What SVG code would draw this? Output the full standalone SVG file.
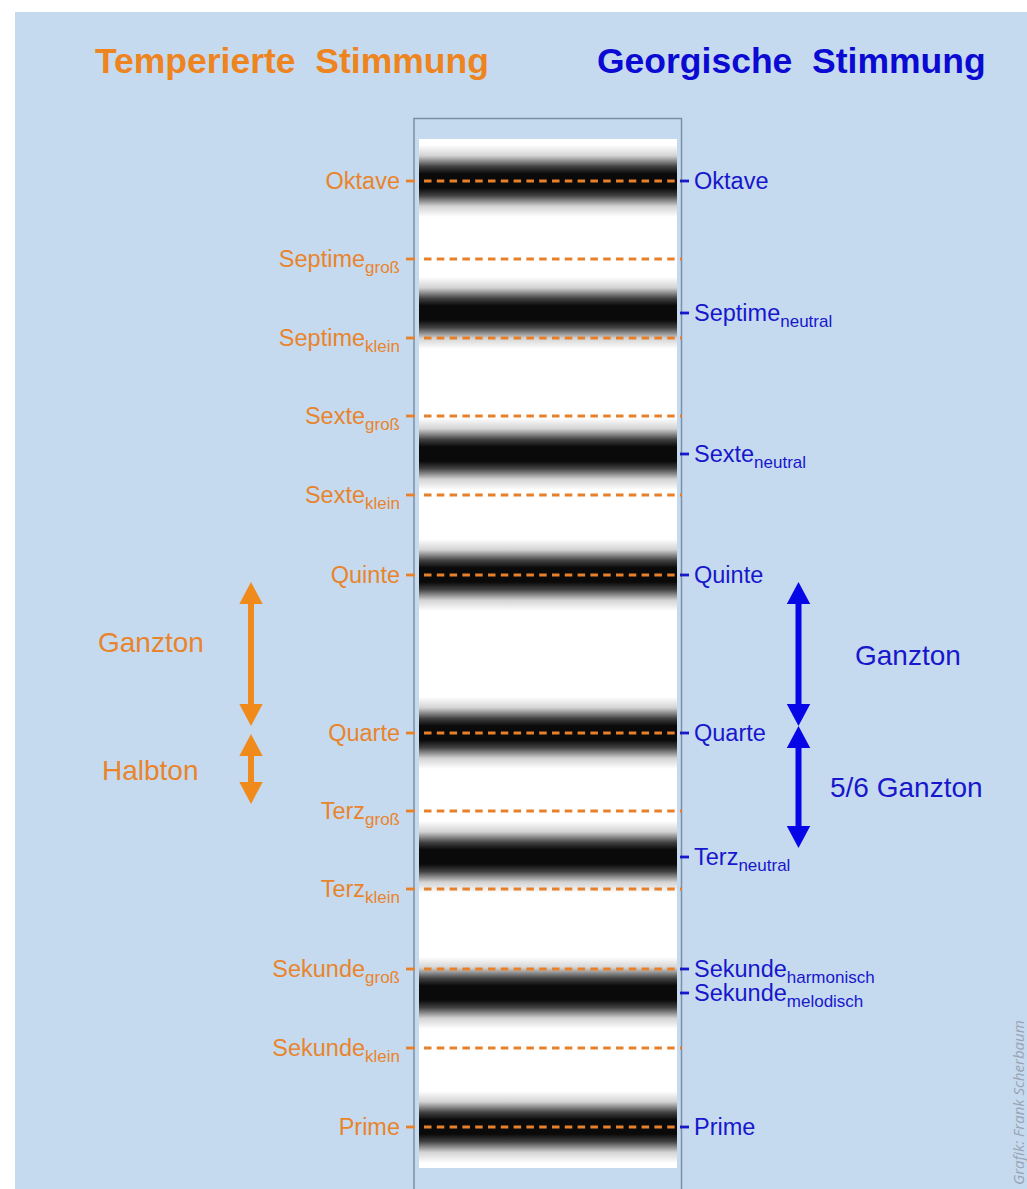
<svg xmlns="http://www.w3.org/2000/svg" width="1027" height="1189" viewBox="0 0 1027 1189">
<style>
  .title { font-family: "Liberation Sans", Arial, sans-serif; font-weight: bold; font-size: 35.5px; }
  .lbl { font-family: "Liberation Sans", Arial, sans-serif; font-size: 23.5px; }
  .sub { font-size: 17px; }
  .big { font-family: "Liberation Sans", Arial, sans-serif; font-size: 28px; }
  .org { fill: #e8842c; }
  .blu { fill: #1717cc; }
  .dash { stroke: #e8802a; stroke-width: 3; stroke-dasharray: 7.5 5.3; fill: none; }
  .tickL { stroke: #e8802a; stroke-width: 2.8; }
  .tickR { stroke: #1717cc; stroke-width: 2.8; }
  .band { fill: url(#bandGrad); }
  .arrO { stroke: #f08a1a; stroke-width: 6; marker-start: url(#headO); marker-end: url(#headO); }
  .arrB { stroke: #0606e6; stroke-width: 6; marker-start: url(#headB); marker-end: url(#headB); }
  .credit { font-family: "Open Sans", sans-serif; font-style: italic; font-size: 15px; fill: #98a3b3; }
</style>
<defs>
  <linearGradient id="bandGrad" x1="0" y1="0" x2="0" y2="1">
    <stop offset="0" stop-color="#0a0a0a" stop-opacity="0"/>
    <stop offset="0.15" stop-color="#0a0a0a" stop-opacity="0.18"/>
    <stop offset="0.3" stop-color="#0a0a0a" stop-opacity="0.78"/>
    <stop offset="0.4" stop-color="#0a0a0a" stop-opacity="1"/>
    <stop offset="0.6" stop-color="#0a0a0a" stop-opacity="1"/>
    <stop offset="0.7" stop-color="#0a0a0a" stop-opacity="0.78"/>
    <stop offset="0.85" stop-color="#0a0a0a" stop-opacity="0.18"/>
    <stop offset="1" stop-color="#0a0a0a" stop-opacity="0"/>
  </linearGradient>
  <marker id="headO" markerUnits="userSpaceOnUse" markerWidth="24" markerHeight="26" refX="0" refY="12" orient="auto-start-reverse" overflow="visible">
    <path d="M0,0.3 L22,12 L0,23.7 z" fill="#f08a1a"/>
  </marker>
  <marker id="headB" markerUnits="userSpaceOnUse" markerWidth="24" markerHeight="26" refX="0" refY="12" orient="auto-start-reverse" overflow="visible">
    <path d="M0,0.3 L22,12 L0,23.7 z" fill="#0606e6"/>
  </marker>
</defs>

<rect x="0" y="0" width="1027" height="1189" fill="#ffffff"/>
<rect x="15" y="12" width="1012" height="1177" fill="#c6daef"/>

<g id="titles">
  <text class="title" x="95" y="73" fill="#ee8420" xml:space="preserve">Temperierte  Stimmung</text>
  <text class="title" x="597" y="73" fill="#0a0ad2" xml:space="preserve">Georgische  Stimmung</text>
</g>

<g id="panel">
  <rect x="414" y="118.5" width="267.5" height="1080" fill="#c6daef" stroke="#7d8fa5" stroke-width="1.5"/>
  <rect x="419" y="139" width="258" height="1029" fill="#ffffff"/>
  <rect class="band" x="419" y="145" width="258" height="72"/>
  <rect class="band" x="419" y="277" width="258" height="72"/>
  <rect class="band" x="419" y="418" width="258" height="72"/>
  <rect class="band" x="419" y="539" width="258" height="72"/>
  <rect class="band" x="419" y="697" width="258" height="72"/>
  <rect class="band" x="419" y="821" width="258" height="72"/>
  <rect class="band" x="419" y="957" width="258" height="72"/>
  <rect class="band" x="419" y="1091" width="258" height="72"/>
</g>

<g id="connectors">
  <g id="dashes">
    <line class="dash" x1="424" y1="181" x2="682" y2="181"/>
    <line class="dash" x1="424" y1="259" x2="682" y2="259"/>
    <line class="dash" x1="424" y1="338" x2="682" y2="338"/>
    <line class="dash" x1="424" y1="416" x2="682" y2="416"/>
    <line class="dash" x1="424" y1="495" x2="682" y2="495"/>
    <line class="dash" x1="424" y1="575" x2="682" y2="575"/>
    <line class="dash" x1="424" y1="733" x2="682" y2="733"/>
    <line class="dash" x1="424" y1="811" x2="682" y2="811"/>
    <line class="dash" x1="424" y1="889" x2="682" y2="889"/>
    <line class="dash" x1="424" y1="969" x2="682" y2="969"/>
    <line class="dash" x1="424" y1="1048" x2="682" y2="1048"/>
    <line class="dash" x1="424" y1="1127" x2="682" y2="1127"/>
  </g>
  <g id="ticksLeft">
    <line class="tickL" x1="406" y1="181" x2="415" y2="181"/>
    <line class="tickL" x1="406" y1="259" x2="415" y2="259"/>
    <line class="tickL" x1="406" y1="338" x2="415" y2="338"/>
    <line class="tickL" x1="406" y1="416" x2="415" y2="416"/>
    <line class="tickL" x1="406" y1="495" x2="415" y2="495"/>
    <line class="tickL" x1="406" y1="575" x2="415" y2="575"/>
    <line class="tickL" x1="406" y1="733" x2="415" y2="733"/>
    <line class="tickL" x1="406" y1="811" x2="415" y2="811"/>
    <line class="tickL" x1="406" y1="889" x2="415" y2="889"/>
    <line class="tickL" x1="406" y1="969" x2="415" y2="969"/>
    <line class="tickL" x1="406" y1="1048" x2="415" y2="1048"/>
    <line class="tickL" x1="406" y1="1127" x2="415" y2="1127"/>
  </g>
  <g id="ticksRight">
    <line class="tickR" x1="680" y1="181" x2="689" y2="181"/>
    <line class="tickR" x1="680" y1="313" x2="689" y2="313"/>
    <line class="tickR" x1="680" y1="454" x2="689" y2="454"/>
    <line class="tickR" x1="680" y1="575" x2="689" y2="575"/>
    <line class="tickR" x1="680" y1="733" x2="689" y2="733"/>
    <line class="tickR" x1="680" y1="857" x2="689" y2="857"/>
    <line class="tickR" x1="680" y1="969" x2="689" y2="969"/>
    <line class="tickR" x1="680" y1="993" x2="689" y2="993"/>
    <line class="tickR" x1="680" y1="1127" x2="689" y2="1127"/>
  </g>
  <g id="arrows">
    <line class="arrO" x1="251" y1="604" x2="251" y2="704"/>
    <line class="arrO" x1="251" y1="756" x2="251" y2="782"/>
    <line class="arrB" x1="798.5" y1="604" x2="798.5" y2="704"/>
    <line class="arrB" x1="798.5" y1="748" x2="798.5" y2="826"/>
  </g>
</g>

<g id="left-labels" text-anchor="end">
  <g id="L-oktave"><text class="lbl org" x="400" y="189">Oktave</text></g>
  <g id="L-septime-gross"><text class="lbl org" x="400" y="267">Septime<tspan class="sub" dy="6">groß</tspan></text></g>
  <g id="L-septime-klein"><text class="lbl org" x="400" y="346">Septime<tspan class="sub" dy="6">klein</tspan></text></g>
  <g id="L-sexte-gross"><text class="lbl org" x="400" y="424">Sexte<tspan class="sub" dy="6">groß</tspan></text></g>
  <g id="L-sexte-klein"><text class="lbl org" x="400" y="503">Sexte<tspan class="sub" dy="6">klein</tspan></text></g>
  <g id="L-quinte"><text class="lbl org" x="400" y="583">Quinte</text></g>
  <g id="L-quarte"><text class="lbl org" x="400" y="741">Quarte</text></g>
  <g id="L-terz-gross"><text class="lbl org" x="400" y="819">Terz<tspan class="sub" dy="6">groß</tspan></text></g>
  <g id="L-terz-klein"><text class="lbl org" x="400" y="897">Terz<tspan class="sub" dy="6">klein</tspan></text></g>
  <g id="L-sekunde-gross"><text class="lbl org" x="400" y="977">Sekunde<tspan class="sub" dy="6">groß</tspan></text></g>
  <g id="L-sekunde-klein"><text class="lbl org" x="400" y="1056">Sekunde<tspan class="sub" dy="6">klein</tspan></text></g>
  <g id="L-prime"><text class="lbl org" x="400" y="1135">Prime</text></g>
</g>

<g id="right-labels">
  <g id="R-oktave"><text class="lbl blu" x="694" y="189">Oktave</text></g>
  <g id="R-septime"><text class="lbl blu" x="694" y="321">Septime<tspan class="sub" dy="6">neutral</tspan></text></g>
  <g id="R-sexte"><text class="lbl blu" x="694" y="462">Sexte<tspan class="sub" dy="6">neutral</tspan></text></g>
  <g id="R-quinte"><text class="lbl blu" x="694" y="583">Quinte</text></g>
  <g id="R-quarte"><text class="lbl blu" x="694" y="741">Quarte</text></g>
  <g id="R-terz"><text class="lbl blu" x="694" y="865">Terz<tspan class="sub" dy="6">neutral</tspan></text></g>
  <g id="R-sekunde-harm"><text class="lbl blu" x="694" y="977">Sekunde<tspan class="sub" dy="6">harmonisch</tspan></text></g>
  <g id="R-sekunde-mel"><text class="lbl blu" x="694" y="1001">Sekunde<tspan class="sub" dy="6">melodisch</tspan></text></g>
  <g id="R-prime"><text class="lbl blu" x="694" y="1135">Prime</text></g>
</g>

<g id="interval-labels">
  <g id="L-ganzton"><text class="big org" x="98" y="652">Ganzton</text></g>
  <g id="L-halbton"><text class="big org" x="102" y="780">Halbton</text></g>
  <g id="R-ganzton"><text class="big blu" x="855" y="665">Ganzton</text></g>
  <g id="R-56ganzton"><text class="big blu" x="830" y="797">5/6 Ganzton</text></g>
</g>

<g id="credit">
  <text class="credit" transform="translate(1024,1185) rotate(-90)">Grafik: Frank Scherbaum</text>
</g>
</svg>
